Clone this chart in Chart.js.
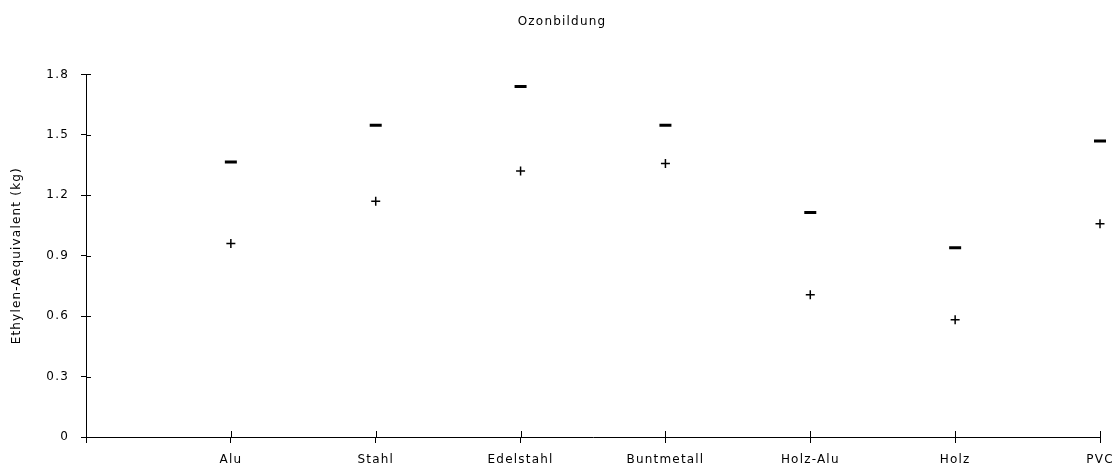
<!DOCTYPE html>
<html>
<head>
<meta charset="utf-8">
<script src="https://cdn.jsdelivr.net/npm/chart.js@4/dist/chart.umd.min.js"></script>
<style>
  html, body { margin: 0; padding: 0; background: #fff; }
  #wrap { width: 1119px; height: 471px; }
</style>
</head>
<body>
<div id="wrap"><canvas id="ozon" width="1119" height="471"></canvas></div>
<script>
// Daten
const kategorien = ['Alu', 'Stahl', 'Edelstahl', 'Buntmetall', 'Holz-Alu', 'Holz', 'PVC'];
const werteMax = [1.365, 1.547, 1.74, 1.547, 1.114, 0.94, 1.469];
const werteMin = [0.96, 1.17, 1.32, 1.358, 0.706, 0.582, 1.058];
const yTicks = [0, 0.3, 0.6, 0.9, 1.2, 1.5, 1.8];

const schrift = { family: '"DejaVu Sans", Verdana, sans-serif', size: 12 };
const abstand = '1.2px'; // breite Schrift wie im Original

// Buchstabenabstand fuer alle Texte setzen
const breiteSchrift = {
  id: 'breiteSchrift',
  beforeLayout(chart) { chart.ctx.letterSpacing = abstand; },
  beforeDraw(chart) { chart.ctx.letterSpacing = abstand; }
};

// kleine Markierungen die die Achse kreuzen (innen)
const innenTicks = {
  id: 'innenTicks',
  afterDraw(chart) {
    const ctx = chart.ctx;
    const x = chart.scales.x, y = chart.scales.y;
    ctx.save();
    ctx.strokeStyle = '#000';
    ctx.lineWidth = 1;
    ctx.beginPath();
    x.ticks.forEach((t, i) => {
      const px = Math.round(x.getPixelForTick(i)) + 0.5;
      ctx.moveTo(px, y.bottom);
      ctx.lineTo(px, y.bottom - 6);
    });
    y.ticks.forEach((t, i) => {
      const py = Math.round(y.getPixelForTick(i)) + 0.5;
      ctx.moveTo(x.left, py);
      ctx.lineTo(x.left + 5, py);
    });
    ctx.stroke();
    ctx.restore();
  }
};

new Chart(document.getElementById('ozon'), {
  type: 'line',
  data: {
    labels: [''].concat(kategorien),
    datasets: [
      {
        label: 'max',
        data: [null].concat(werteMax),
        showLine: false,
        pointStyle: 'line',
        pointRadius: 6,
        pointBorderWidth: 3,
        borderColor: '#000',
        backgroundColor: '#000'
      },
      {
        label: 'min',
        data: [null].concat(werteMin),
        showLine: false,
        pointStyle: 'cross',
        pointRadius: 4.5,
        pointBorderWidth: 1.5,
        borderColor: '#000',
        backgroundColor: '#000'
      }
    ]
  },
  options: {
    responsive: false,
    animation: false,
    layout: { padding: { left: 24, right: 19, top: 0, bottom: 0 } },
    plugins: {
      legend: { display: false },
      tooltip: { enabled: false },
      title: {
        display: true,
        text: 'Ozonbildung',
        color: '#000',
        font: Object.assign({ weight: 'normal' }, schrift),
        padding: { top: 15, bottom: 45 }
      }
    },
    scales: {
      x: {
        type: 'category',
        offset: false,
        border: { color: '#000', width: 1 },
        grid: { drawOnChartArea: false, tickLength: 6, color: '#000' },
        ticks: { color: '#000', font: schrift, padding: 10, autoSkip: false, maxRotation: 0 },
        afterFit(scale) {
          scale.height = 34;
          scale.paddingLeft = 0;
          scale.paddingRight = 0;
        }
      },
      y: {
        min: 0,
        max: 1.8,
        afterBuildTicks(scale) { scale.ticks = yTicks.map(v => ({ value: v })); },
        border: { color: '#000', width: 1 },
        grid: { drawOnChartArea: false, tickLength: 5, color: '#000' },
        ticks: {
          color: '#000',
          font: schrift,
          padding: 12,
          callback: v => (v === 0 ? '0' : v.toFixed(1))
        },
        title: {
          display: true,
          text: 'Ethylen-Aequivalent (kg)',
          color: '#000',
          font: schrift,
          padding: { top: -14, bottom: 0 }
        },
        afterFit(scale) { scale.width = 62; }
      }
    }
  },
  plugins: [breiteSchrift, innenTicks]
});
</script>
</body>
</html>
